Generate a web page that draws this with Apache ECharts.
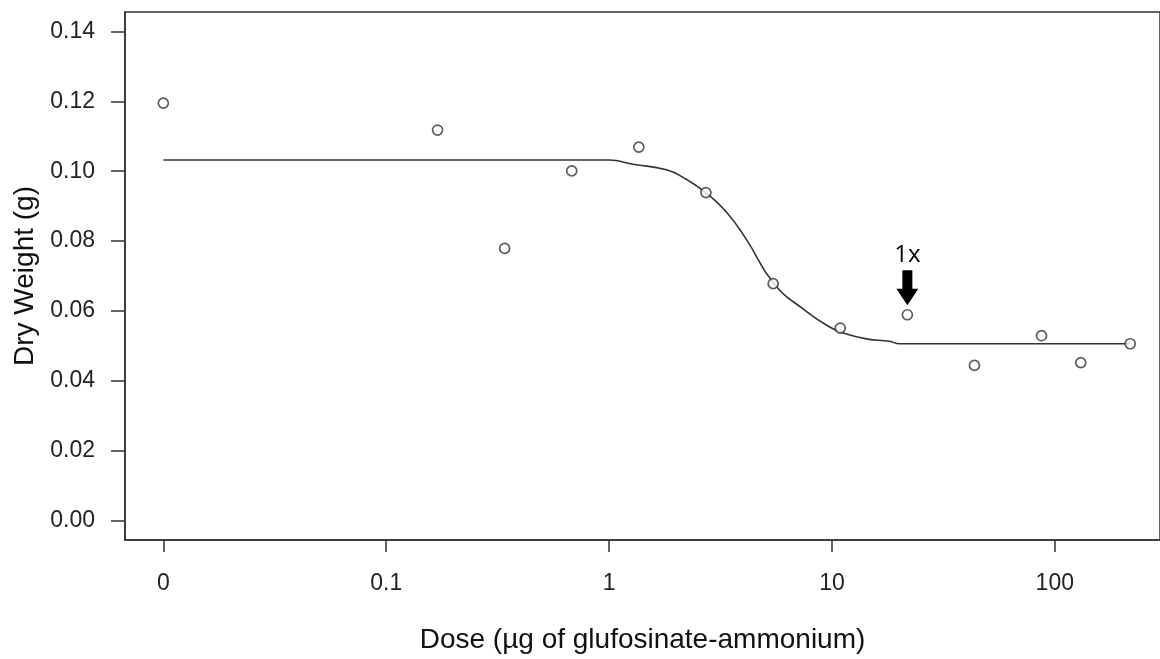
<!DOCTYPE html>
<html lang="en">
<head>
    <meta charset="UTF-8">
    <title>Dry weight vs dose</title>
    <script src="https://cdn.jsdelivr.net/npm/echarts@6/dist/echarts.min.js"></script>
    <style>
        html, body { margin: 0; padding: 0; background: #fff; }
    </style>
</head>
<body>
<div id="main" style="width: 1160px;height:659px;"></div>
<script type="text/javascript">
    // observed dry weights (dose 0 is drawn at the axis break, 0.01)
    var doses = [0, 0.17, 0.34, 0.68, 1.36, 2.72, 5.45, 10.9, 21.8, 43.6, 87.2, 130.8, 218];
    var weights = [0.1195, 0.1118, 0.0779, 0.1001, 0.1069, 0.0939, 0.0678, 0.0551, 0.0589, 0.0444, 0.0529, 0.0452, 0.0506];

    // fitted curve
    var curveDoses = [0, 1.0, 1.28, 1.81, 2.22, 2.71, 3.36, 4.13, 5.5, 7.67, 9.77, 11.1, 14.3, 18.1, 20.1, 218];
    var curveWeights = [0.1032, 0.1032, 0.1020, 0.1004, 0.0977, 0.0939, 0.0883, 0.0805, 0.0678, 0.0599, 0.0554, 0.0538, 0.0520, 0.0513, 0.0506, 0.0506];

    var xTicks = [0.01, 0.1, 1, 10, 100];
    var yTicks = [0, 0.02, 0.04, 0.06, 0.08, 0.10, 0.12, 0.14];

    var zeroPos = 0.01;
    var markDose = 21.8, markWeight = 0.0589;

    function pairs(xs, ys) {
        return xs.map(function (x, i) {
            return [x === 0 ? zeroPos : x, ys[i]];
        });
    }

    var myChart = echarts.init(document.getElementById('main'));
    var font = 'Liberation Sans, Arial, sans-serif';

    var option = {
        animation: false,
        grid: {
            left: 125, right: 0, top: 12, bottom: 119,
            show: true, borderColor: '#333', borderWidth: 1.5
        },
        xAxis: {
            type: 'log',
            logBase: 10,
            min: 0.00673,
            max: 296.5,
            name: 'Dose (\u00b5g of glufosinate-ammonium)',
            nameLocation: 'middle',
            nameGap: 86,
            nameTextStyle: { fontFamily: font, fontSize: 28, color: '#111' },
            axisLine: { show: true, onZero: false, lineStyle: { color: '#333', width: 1.5 } },
            axisTick: { show: true, length: 12, customValues: xTicks, lineStyle: { color: '#333', width: 1.5 } },
            axisLabel: {
                customValues: xTicks,
                margin: 32,
                fontFamily: font, fontSize: 23, color: '#222',
                formatter: function (v) {
                    if (Math.abs(v - zeroPos) < 1e-6) return '0';
                    return String(+v.toPrecision(3));
                }
            },
            splitLine: { show: false }
        },
        yAxis: {
            type: 'value',
            min: -0.0056,
            max: 0.1456,
            name: 'Dry Weight (g)',
            nameLocation: 'middle',
            nameGap: 86,
            nameTextStyle: { fontFamily: font, fontSize: 28, color: '#111' },
            axisLine: { show: true, onZero: false, lineStyle: { color: '#333', width: 1.5 } },
            axisTick: { show: true, length: 14, customValues: yTicks, lineStyle: { color: '#333', width: 1.5 } },
            axisLabel: {
                customValues: yTicks,
                margin: 30,
                fontFamily: font, fontSize: 23, color: '#222',
                formatter: function (v) { return v.toFixed(2); }
            },
            splitLine: { show: false }
        },
        series: [{
            name: 'fit',
            type: 'line',
            data: pairs(curveDoses, curveWeights),
            showSymbol: false,
            smooth: 0.5,
            lineStyle: { color: '#333', width: 1.6 },
            z: 2
        }, {
            name: 'observed',
            type: 'scatter',
            data: pairs(doses, weights),
            symbol: 'circle',
            symbolSize: 10,
            itemStyle: { color: '#fff', borderColor: '#333', borderWidth: 1.7 },
            z: 3,
            markPoint: {
                silent: true,
                data: [{
                    coord: [markDose, markWeight],
                    symbol: 'path://M6,0 L16,0 L16,18 L22,18 L11,34 L0,18 L6,18 Z',
                    symbolSize: [22, 35],
                    symbolOffset: [0, -27],
                    itemStyle: { color: '#000' },
                    label: {
                        show: true,
                        position: 'top',
                        distance: 3,
                        formatter: '1x',
                        fontFamily: 'Open Sans, sans-serif',
                        fontSize: 24,
                        color: '#000'
                    }
                }]
            }
        }]
    };
    myChart.setOption(option);
</script>

</body>
</html>
